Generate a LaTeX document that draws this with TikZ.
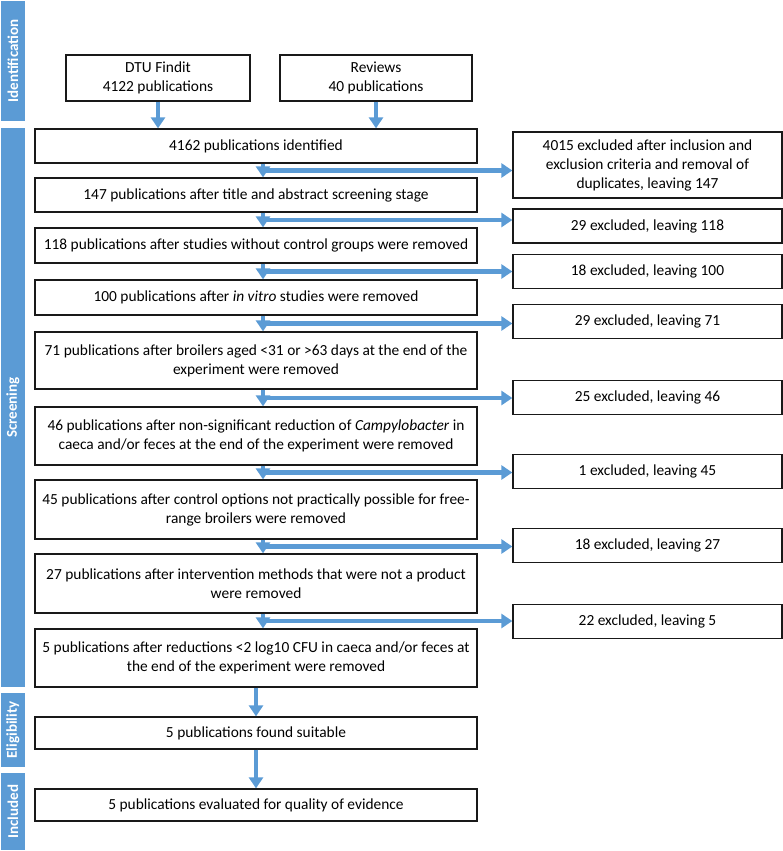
\documentclass[tikz,border=0pt]{standalone}
\usepackage{fontspec}
\setmainfont{Carlito}
\usetikzlibrary{positioning,calc,arrows.meta}
\definecolor{flowblue}{RGB}{91,155,213}

\begin{document}
\begin{tikzpicture}[
    x=1pt, y=-1pt,
    every node/.style={font=\fontsize{15.4}{19}\selectfont, inner sep=2pt},
    mainbox/.style={draw=black!90, line width=1.3pt, minimum width=442pt, align=center},
    exclbox/.style={draw=black!90, line width=1.3pt, minimum width=269pt, minimum height=34pt, align=center},
    srcbox/.style={draw=black!90, line width=1.3pt, minimum height=46pt, align=center},
    phase/.style={fill=flowblue, text=white, rotate=90, minimum height=24pt, font=\fontsize{15}{18}\selectfont\bfseries},
    flow/.style={draw=flowblue, line width=4.5pt, -{Triangle[width=14pt,length=11pt]}}
]
    \useasboundingbox (0,0) rectangle (783,851);

    % Phase bars
    \node[phase, minimum width=120pt] (pid) at (13,61) {Identification};
    \node[phase, minimum width=559pt] (psc) at (13,407.5) {Screening};
    \node[phase, minimum width=74pt] (pel) at (13,730) {Eligibility};
    \node[phase, minimum width=77pt] (pin) at (13,811.5) {Included};

    % Sources
    \node[srcbox, minimum width=184pt] (dtu) at (158,78) {DTU Findit\\4122 publications};
    \node[srcbox, minimum width=192pt] (rev) at (376,78) {Reviews\\40 publications};

    % Main column
    \node[mainbox, minimum height=34pt] (b0) at (256,146) {4162 publications identified};
    \node[mainbox, minimum height=34pt] (b1) at (256,195) {147 publications after title and abstract screening stage};
    \node[mainbox, minimum height=35pt] (b2) at (256,245.5) {118 publications after studies without control groups were removed};
    \node[mainbox, minimum height=35pt] (b3) at (256,297.5) {100 publications after \textit{in vitro} studies were removed};
    \node[mainbox, minimum height=57pt] (b4) at (256,360.5) {71 publications after broilers aged <31 or >63 days at the end of the\\experiment were removed};
    \node[mainbox, minimum height=58pt] (b5) at (256,436) {46 publications after non-significant reduction of \textit{Campylobacter} in\\caeca and/or feces at the end of the experiment were removed};
    \node[mainbox, minimum height=59pt] (b6) at (256,509.5) {45 publications after control options not practically possible for free-\\range broilers were removed};
    \node[mainbox, minimum height=59pt] (b7) at (256,583.5) {27 publications after intervention methods that were not a product\\were removed};
    \node[mainbox, minimum height=58pt] (b8) at (256,658) {5 publications after reductions <2 log10 CFU in caeca and/or feces at\\the end of the experiment were removed};
    \node[mainbox, minimum height=32pt] (b9) at (256,733) {5 publications found suitable};
    \node[mainbox, minimum height=32pt] (b10) at (256,805) {5 publications evaluated for quality of evidence};

    % Exclusions
    \node[exclbox, minimum height=66pt] (e1) at (647.5,165) {4015 excluded after inclusion and\\exclusion criteria and removal of\\duplicates, leaving 147};
    \node[exclbox] (e2) at (647.5,226) {29 excluded, leaving 118};
    \node[exclbox] (e3) at (647.5,271.5) {18 excluded, leaving 100};
    \node[exclbox] (e4) at (647.5,321.5) {29 excluded, leaving 71};
    \node[exclbox] (e5) at (647.5,397.5) {25 excluded, leaving 46};
    \node[exclbox] (e6) at (647.5,471.5) {1 excluded, leaving 45};
    \node[exclbox] (e7) at (647.5,545.5) {18 excluded, leaving 27};
    \node[exclbox] (e8) at (647.5,621.5) {22 excluded, leaving 5};

    % Arrows
    \draw[flow] (dtu) -- (dtu |- b0.north);
    \draw[flow] (rev) -- (rev |- b0.north);
    \foreach \up/\dn/\ex in {b0/b1/e1, b1/b2/e2, b2/b3/e3, b3/b4/e4, b4/b5/e5, b5/b6/e6, b6/b7/e7, b7/b8/e8}{
        \draw[flow] ([xshift=7pt]\up.south) -- ([xshift=7pt]\dn.north);
        \coordinate (j) at ($([xshift=7pt]\up.south)!0.5!([xshift=7pt]\dn.north)$);
        \draw[flow] (j) -- (j -| \ex.west);
    }
    \draw[flow] (b8) -- (b9);
    \draw[flow] (b9) -- (b10);
\end{tikzpicture}
\end{document}
